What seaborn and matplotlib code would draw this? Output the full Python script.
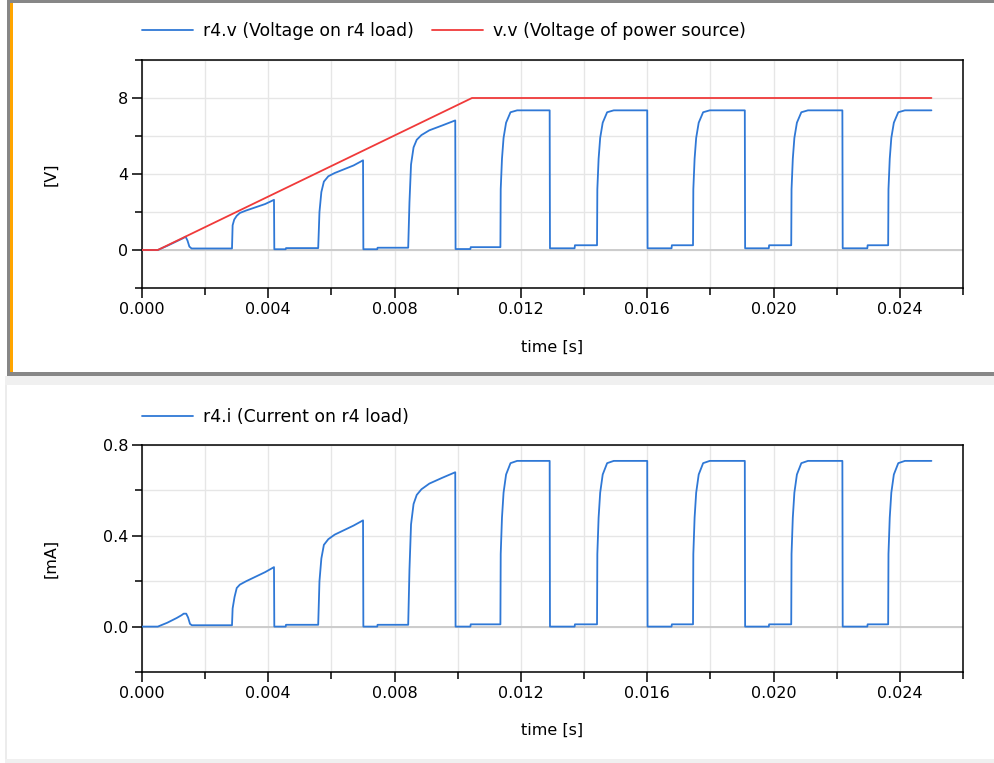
import numpy as np
import pandas as pd
import seaborn as sns
import matplotlib.pyplot as plt
from matplotlib.patches import Rectangle
from matplotlib.ticker import MultipleLocator, FormatStrFormatter

# ---------------- data (time in ms) ----------------
src_t_ms = [0.0, 0.5, 10.45, 25.0]
src_v = [0.0, 0.0, 8.0, 8.0]

r4v_t_ms = [0.0, 0.5, 0.8, 1.1, 1.3, 1.38, 1.44, 1.5, 1.57, 2.85,
            2.87, 2.92, 3.0, 3.1, 3.3, 3.6, 3.9, 4.18, 4.19, 4.55, 4.56, 5.58,
            5.62, 5.68, 5.76, 5.9, 6.1, 6.4, 6.7, 7.0, 7.01, 7.45, 7.46, 8.43,
            8.47, 8.52, 8.6, 8.7, 8.85, 9.1, 9.5, 9.92, 9.93, 10.4, 10.41, 11.35,
            11.36, 11.4, 11.45, 11.53, 11.67, 11.88, 12.91, 12.92, 13.7, 13.71, 14.41,
            14.42, 14.46, 14.51, 14.59, 14.73, 14.94, 16.0, 16.01, 16.77, 16.78, 17.45,
            17.46, 17.5, 17.55, 17.63, 17.77, 17.98, 19.09, 19.1, 19.85, 19.86, 20.56,
            20.57, 20.61, 20.66, 20.74, 20.88, 21.09, 22.18, 22.19, 22.97, 22.98, 23.63,
            23.64, 23.68, 23.73, 23.81, 23.95, 24.16, 25.0]
r4v_vals = [0.0, 0.0, 0.22, 0.46, 0.62, 0.7, 0.5, 0.18, 0.08, 0.08,
            1.3, 1.6, 1.8, 1.95, 2.08, 2.25, 2.42, 2.64, 0.04, 0.04, 0.1, 0.1,
            2.0, 3.05, 3.6, 3.88, 4.05, 4.25, 4.45, 4.72, 0.04, 0.04, 0.12, 0.12,
            2.5, 4.5, 5.4, 5.8, 6.05, 6.3, 6.55, 6.82, 0.05, 0.05, 0.15, 0.15,
            3.2, 4.8, 5.9, 6.7, 7.25, 7.35, 7.35, 0.09, 0.09, 0.25, 0.25,
            3.2, 4.8, 5.9, 6.7, 7.25, 7.35, 7.35, 0.09, 0.09, 0.25, 0.25,
            3.2, 4.8, 5.9, 6.7, 7.25, 7.35, 7.35, 0.09, 0.09, 0.25, 0.25,
            3.2, 4.8, 5.9, 6.7, 7.25, 7.35, 7.35, 0.09, 0.09, 0.25, 0.25,
            3.2, 4.8, 5.9, 6.7, 7.25, 7.35, 7.35]

r4i_t_ms = [0.0, 0.5, 0.8, 1.1, 1.25, 1.32, 1.4, 1.46, 1.52, 1.58, 2.85,
            2.87, 2.93, 3.0, 3.1, 3.3, 3.6, 3.9, 4.18, 4.19, 4.55, 4.56, 5.58,
            5.62, 5.68, 5.76, 5.9, 6.1, 6.4, 6.7, 7.0, 7.01, 7.45, 7.46, 8.43,
            8.47, 8.52, 8.6, 8.7, 8.85, 9.1, 9.5, 9.92, 9.93, 10.4, 10.41, 11.35,
            11.36, 11.4, 11.45, 11.53, 11.67, 11.88, 12.91, 12.92, 13.7, 13.71, 14.41,
            14.42, 14.46, 14.51, 14.59, 14.73, 14.94, 16.0, 16.01, 16.77, 16.78, 17.45,
            17.46, 17.5, 17.55, 17.63, 17.77, 17.98, 19.09, 19.1, 19.85, 19.86, 20.56,
            20.57, 20.61, 20.66, 20.74, 20.88, 21.09, 22.18, 22.19, 22.97, 22.98, 23.63,
            23.64, 23.68, 23.73, 23.81, 23.95, 24.16, 25.0]
r4i_vals = [0.0, 0.0, 0.017, 0.038, 0.05, 0.057, 0.057, 0.04, 0.012, 0.006, 0.006,
            0.08, 0.13, 0.17, 0.185, 0.2, 0.22, 0.24, 0.262, 0.0, 0.0, 0.008, 0.008,
            0.2, 0.3, 0.36, 0.385, 0.405, 0.425, 0.445, 0.468, 0.0, 0.0, 0.008, 0.008,
            0.25, 0.45, 0.54, 0.58, 0.605, 0.63, 0.655, 0.68, 0.0, 0.0, 0.01, 0.01,
            0.32, 0.48, 0.59, 0.67, 0.72, 0.73, 0.73, 0.0, 0.0, 0.01, 0.01,
            0.32, 0.48, 0.59, 0.67, 0.72, 0.73, 0.73, 0.0, 0.0, 0.01, 0.01,
            0.32, 0.48, 0.59, 0.67, 0.72, 0.73, 0.73, 0.0, 0.0, 0.01, 0.01,
            0.32, 0.48, 0.59, 0.67, 0.72, 0.73, 0.73, 0.0, 0.0, 0.01, 0.01,
            0.32, 0.48, 0.59, 0.67, 0.72, 0.73, 0.73]

label_r4v = "r4.v (Voltage on r4 load)"
label_vv = "v.v (Voltage of power source)"
label_r4i = "r4.i (Current on r4 load)"

BLUE = "#2f78d6"
RED = "#f03a3a"

# ---------------- figure ----------------
sns.set_theme(style="white")
plt.rcParams['font.family'] = ['DejaVu Sans']
plt.rcParams['text.color'] = 'black'
plt.rcParams['axes.labelcolor'] = 'black'
plt.rcParams['xtick.color'] = 'black'
plt.rcParams['ytick.color'] = 'black'

W, H = 995, 763
fig = plt.figure(figsize=(W / 100, H / 100), dpi=100, facecolor='white')


def px_rect(x0, y0, x1, y1, color):
    fig.patches.append(Rectangle((x0 / W, 1 - y1 / H), (x1 - x0) / W, (y1 - y0) / H,
                                 transform=fig.transFigure, facecolor=color,
                                 edgecolor='none', zorder=0))


def ax_at(x0, y0, x1, y1):
    return fig.add_axes([x0 / W, 1 - y1 / H, (x1 - x0) / W, (y1 - y0) / H])


# window decorations
px_rect(6.7, 0, W, 3, '#878787')
px_rect(6.7, 0, 10, 375.5, '#878787')
px_rect(10, 3, 13.3, 372, '#ffa500')
px_rect(6.7, 372, W, 375.5, '#878787')
px_rect(5, 375.5, W, 385, '#f0f0f0')
px_rect(5, 385, 7, H, '#ececec')
px_rect(5, 759, W, H, '#f0f0f0')

ax1 = ax_at(142, 60, 963, 288)
ax2 = ax_at(142, 445, 963, 672)

df_v = pd.DataFrame({'t': np.array(r4v_t_ms) * 1e-3, 'v': r4v_vals})
df_s = pd.DataFrame({'t': np.array(src_t_ms) * 1e-3, 'v': src_v})
df_i = pd.DataFrame({'t': np.array(r4i_t_ms) * 1e-3, 'i': r4i_vals})

for ax in (ax1, ax2):
    ax.axhline(0, color='#cccccc', lw=1.4, zorder=1)

sns.lineplot(data=df_v, x='t', y='v', ax=ax1, color=BLUE, lw=1.3,
             estimator=None, sort=False, label=label_r4v, zorder=3)
sns.lineplot(data=df_s, x='t', y='v', ax=ax1, color=RED, lw=1.3,
             estimator=None, sort=False, label=label_vv, zorder=3)
sns.lineplot(data=df_i, x='t', y='i', ax=ax2, color=BLUE, lw=1.3,
             estimator=None, sort=False, label=label_r4i, zorder=3)

FS = 11.5
LFS = 12.4
for ax, ylim, maj, mnr, fmt, ylab in (
        (ax1, (-2, 10), 4, 2, '%g', '[V]'),
        (ax2, (-0.2, 0.8), 0.4, 0.2, '%.1f', '[mA]')):
    ax.set_xlim(0, 0.026)
    ax.set_ylim(*ylim)
    ax.xaxis.set_major_locator(MultipleLocator(0.004))
    ax.xaxis.set_minor_locator(MultipleLocator(0.002))
    ax.xaxis.set_major_formatter(FormatStrFormatter('%.3f'))
    ax.yaxis.set_major_locator(MultipleLocator(maj))
    ax.yaxis.set_minor_locator(MultipleLocator(mnr))
    ax.yaxis.set_major_formatter(FormatStrFormatter(fmt))
    ax.grid(True, which='both', color='#e6e6e6', lw=1.0)
    ax.set_axisbelow(True)
    for s in ax.spines.values():
        s.set_visible(True)
        s.set_color('black')
        s.set_linewidth(1.1)
    ax.tick_params(which='both', bottom=True, left=True, top=False, right=False,
                   direction='out', width=1.1, colors='black')
    ax.tick_params(which='major', length=7, pad=3, labelsize=FS)
    ax.tick_params(which='minor', length=5)
    ax.set_xlabel('time [s]', fontsize=FS, va='center')
    ax.set_ylabel(ylab, fontsize=FS, va='center')
    ax.yaxis.set_label_coords((51 - 142) / 821, 0.5)
    ax.xaxis.set_label_coords(0.5, -59 / 228)
    ax.set_facecolor('white')

ax1.legend(loc='center left', bbox_to_anchor=(0, (288 - 31) / 228), ncol=2,
           frameon=False, borderpad=0, borderaxespad=0, fontsize=LFS,
           handlelength=2.96, handletextpad=0.58, columnspacing=1.05)
ax2.legend(loc='center left', bbox_to_anchor=(0, (672 - 417) / 227), ncol=1,
           frameon=False, borderpad=0, borderaxespad=0, fontsize=LFS,
           handlelength=2.96, handletextpad=0.58, columnspacing=1.05)

fig.savefig('out.png', dpi=100, facecolor='white')
